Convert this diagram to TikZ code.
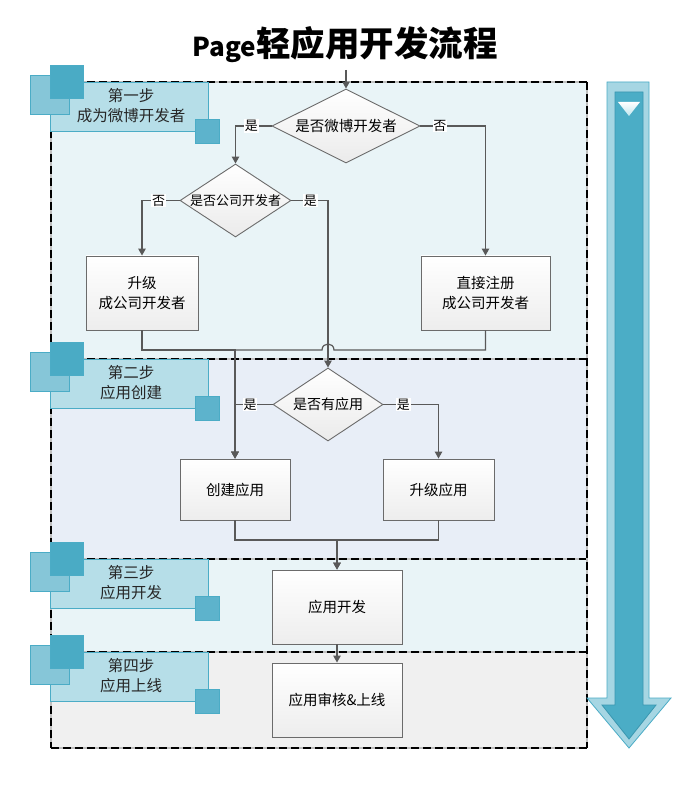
\documentclass[tikz,border=0pt]{standalone}
\usepackage{fontspec}
\setmainfont{Noto Sans CJK SC}
\usetikzlibrary{shapes.geometric,arrows.meta}
\definecolor{secA}{HTML}{E9F4F7}
\definecolor{secB}{HTML}{E8EEF7}
\definecolor{secD}{HTML}{F0F0F0}
\definecolor{stepbg}{HTML}{B6DEE8}
\definecolor{stepbd}{HTML}{4BACC6}
\definecolor{sqlight}{HTML}{86C6D8}
\definecolor{sqdark}{HTML}{4AABC5}
\definecolor{sqsmall}{HTML}{5DB3CC}
\definecolor{sqbd}{HTML}{3F9DB9}
\definecolor{arrout}{HTML}{A6D6E3}
\definecolor{arrin}{HTML}{4BADC6}
\definecolor{arrinbd}{HTML}{3A97B0}
\definecolor{tri}{HTML}{BFE6EE}
\definecolor{lineC}{HTML}{595959}
\definecolor{boxbd}{HTML}{6B6B6B}
\newcommand{\mkstep}[4]{%
  \node[stepmain] (#4) at (129,{#1+24.5}) {};
  \node[stepsq, fill=sqlight] (#4l) at (49.5,{#1+12.5}) {};
  \node[stepsq, fill=sqdark, minimum size=33] (#4d) at (66.5,{#1-0.5}) {};
  \node[stepsq, fill=sqsmall, minimum size=24] (#4s) at (207,{#1+49}) {};
  \node[steptext] (#4t) at (131,{#1+24}) {#2\\#3};
}
\begin{document}
\begin{tikzpicture}[x=1pt,y=-1pt,
  stepmain/.style={rectangle, draw=stepbd, fill=stepbg, line width=0.8pt, minimum width=158, minimum height=49, inner sep=0},
  stepsq/.style={rectangle, draw=stepbd, line width=0.8pt, minimum size=39, inner sep=0},
  steptext/.style={align=center, font=\fontsize{15.5}{20}\selectfont, text=black!85},
  fbox/.style={rectangle, draw=boxbd, line width=0.9pt, top color=white, bottom color=black!7, align=center, inner sep=0, font=\fontsize{14.5}{19.5}\selectfont},
  dia/.style={diamond, draw=boxbd, line width=0.9pt, top color=white, bottom color=black!8, inner sep=0},
  diatext/.style={font=\fontsize{#1}{#1}\selectfont},
  conn/.style={draw=lineC, line width=1.2pt, -{Triangle[length=7pt,width=7.5pt]}},
  plain/.style={draw=lineC, line width=1.2pt},
  lbl/.style={fill=white, inner sep=0.8pt, font=\fontsize{13}{13}\selectfont},
  sepgray/.style={draw=black!25, line width=1.3pt},
  sepdash/.style={draw=black, line width=1.3pt, dash pattern=on 8pt off 4pt}
]
\useasboundingbox (0,0) rectangle (700,791);
\fill[white] (0,0) rectangle (700,791);
% sections
\fill[secA] (51,82) rectangle (587,359);
\fill[secB] (51,359) rectangle (587,559);
\fill[secA] (51,559) rectangle (587,652);
\fill[secD] (51,652) rectangle (587,748);
\foreach \yy in {82,359,559,652,748} {
  \draw[sepgray] (51,\yy) -- (587,\yy);
  \draw[sepdash] (51,\yy) -- (587,\yy);
}
\draw[sepgray] (51,82) -- (51,748);
\draw[sepdash] (51,82) -- (51,748);
\draw[sepgray] (587,82) -- (587,748);
\draw[sepdash] (587,82) -- (587,748);
% big arrow
\draw[draw=stepbd, fill=arrout, line width=0.8pt] (607,82) -- (649,82) -- (649,698) -- (671,698) -- (629,748) -- (587,698) -- (607,698) -- cycle;
\draw[draw=arrinbd, fill=arrin, line width=0.8pt] (615,92) -- (643,92) -- (643,705) -- (656,705) -- (629,739) -- (602,705) -- (615,705) -- cycle;
\shade[top color=white, bottom color=tri] (618,102) -- (640,102) -- (629,116) -- cycle;
% title
\node[font=\bfseries, inner sep=0] (title) at (345,45) {{\fontsize{26}{26}\selectfont Page}{\fontsize{34.5}{34.5}\selectfont 轻应用开发流程}};
\coordinate (top) at (346,70);
% steps
\mkstep{82}{第一步}{成为微博开发者}{s1}
\mkstep{359}{第二步}{应用创建}{s2}
\mkstep{559}{第三步}{应用开发}{s3}
\mkstep{652}{第四步}{应用上线}{s4}
% diamonds
\node[dia, minimum width=148, minimum height=74] (d1) at (346,126) {};
\node[diatext=14.5] (d1t) at (d1.center) {是否微博开发者};
\node[dia, minimum width=111, minimum height=73] (d2) at (235.5,200.5) {};
\node[diatext=13] (d2t) at (d2.center) {是否公司开发者};
\node[dia, minimum width=110, minimum height=73] (d3) at (328,404.5) {};
\node[diatext=14] (d3t) at (d3.center) {是否有应用};
% boxes
\node[fbox, minimum width=112, minimum height=74] (b1) at (142,293) {升级\\成公司开发者};
\node[fbox, minimum width=129, minimum height=74] (b2) at (485.5,293) {直接注册\\成公司开发者};
\node[fbox, minimum width=110, minimum height=61] (c1) at (235,489.5) {创建应用};
\node[fbox, minimum width=111, minimum height=61] (c2) at (438.5,489.5) {升级应用};
\node[fbox, minimum width=130, minimum height=74] (dev) at (337,607) {应用开发};
\node[fbox, minimum width=130, minimum height=74] (rev) at (337,700) {应用审核\&上线};
% helper levels
\coordinate (jy) at (0,350);
\coordinate (jb) at (0,540);
% connectors
\draw[conn] (top) -- (d1.north);
\draw[conn] (d1.west) -| node[lbl,pos=0.28]{是} (d2.north);
\draw[conn] (d1.east) -| node[lbl,pos=0.15]{否} (b2.north);
\draw[conn] (d2.west) -| node[lbl,pos=0.28]{否} (b1.north);
\draw[conn] (d2.east) -| node[lbl,pos=0.26]{是} (d3.north);
\draw[conn] (b1.south) |- (c1.north |- jy) -- (c1.north);
\draw[conn] (b2.south) |- (334,350) .. controls (334,342) and (322,342) .. (322,350) -- (c1.north |- jy) -- (c1.north);
\draw[conn] (d3.west) -| node[lbl,pos=0.3]{是} (c1.north);
\draw[conn] (d3.east) -| node[lbl,pos=0.18]{是} (c2.north);
\draw[conn] (c1.south) |- (dev.north |- jb) -- (dev.north);
\draw[conn] (c2.south) |- (dev.north |- jb) -- (dev.north);
\draw[conn] (dev.south) -- (rev.north);
\end{tikzpicture}
\end{document}
